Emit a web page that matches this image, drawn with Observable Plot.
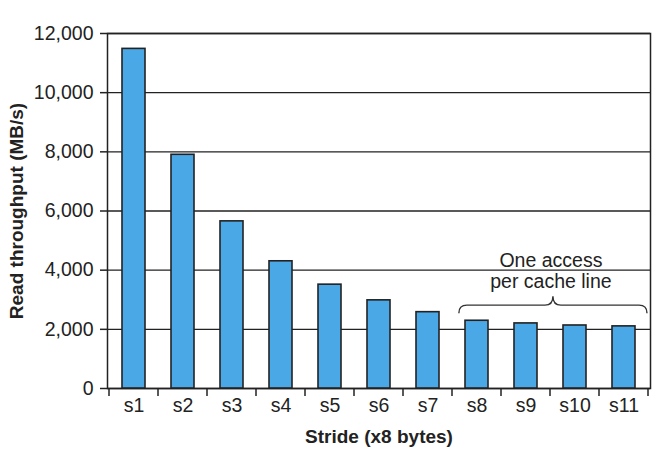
<!DOCTYPE html>
<html>
<head>
<meta charset="utf-8">
<script src="https://cdn.jsdelivr.net/npm/d3@7"></script>
<script src="https://cdn.jsdelivr.net/npm/@observablehq/plot@0.6"></script>
<style>
  html, body { margin: 0; padding: 0; background: #fff; }
</style>
</head>
<body>
<div id="chart"></div>
<script>
// ---- data ----
const strides = ["s1", "s2", "s3", "s4", "s5", "s6", "s7", "s8", "s9", "s10", "s11"];
const throughput = [11480, 7900, 5650, 4300, 3510, 2980, 2580, 2290, 2200, 2130, 2100];
const yTicks = [0, 2000, 4000, 6000, 8000, 10000, 12000];
const noteLines = ["One access", "per cache line"];
const noteFrom = "s8";
const noteTo = "s11";
const braceLevel = 2800;
const xTitle = "Stride (x8 bytes)";
const yTitle = "Read throughput (MB/s)";

const data = strides.map((s, i) => ({stride: s, value: throughput[i]}));

const ink = "#222";
const barFill = "#4aa8e6";
const paddingInner = 0.54;
const font = "'Liberation Sans', Arial, Helvetica, sans-serif";
const fs = 19.5;

// helper: band geometry from the scale
function bandInfo(x) {
  const step = x(strides[1]) - x(strides[0]);
  let bw = typeof x.bandwidth === "function" ? x.bandwidth() : x.bandwidth;
  if (!(bw > 0)) bw = step * (1 - paddingInner);
  return {step, bw, center: (s) => x(s) + bw / 2};
}

// boundary ticks under the x axis
function boundaryTicks(index, scales, values, dims) {
  const {step, center} = bandInfo(scales.x);
  const yb = dims.height - dims.marginBottom;
  const g = d3.create("svg:g").attr("stroke", ink).attr("stroke-width", 1.5);
  const xs = strides.map((s) => center(s) - step / 2);
  xs.push(center(strides[strides.length - 1]) + step / 2);
  for (const xx of xs) {
    g.append("line").attr("x1", xx).attr("x2", xx).attr("y1", yb).attr("y2", yb + 8);
  }
  return g.node();
}

// brace + note
function braceNote(index, scales, values, dims) {
  const {step, center} = bandInfo(scales.x);
  const x0 = center(noteFrom) - step * 0.36;
  const x1 = center(noteTo) + step * 0.5 - 1;
  const xm = (x0 + x1) / 2;
  const yb = scales.y(braceLevel);
  const r = 8, tip = 9, drop = 8;
  const path = `M${x0},${yb + drop} Q${x0},${yb} ${x0 + r},${yb} L${xm - r},${yb} Q${xm},${yb} ${xm},${yb - tip} Q${xm},${yb} ${xm + r},${yb} L${x1 - r},${yb} Q${x1},${yb} ${x1},${yb + drop}`;
  const g = d3.create("svg:g");
  g.append("path").attr("d", path).attr("fill", "none").attr("stroke", "#333").attr("stroke-width", 1.4);
  const t = g.append("text").attr("text-anchor", "middle").attr("fill", ink)
    .attr("font-size", fs + "px").attr("font-family", font);
  noteLines.forEach((line, i) => {
    t.append("tspan").attr("x", xm - 2).attr("y", yb - tip - 8 - (noteLines.length - 1 - i) * 21).text(line);
  });
  return g.node();
}

const chart = Plot.plot({
  width: 655,
  height: 453,
  marginLeft: 107,
  marginRight: 5,
  marginTop: 33,
  marginBottom: 65,
  style: {fontFamily: font, fontSize: fs + "px", color: ink, background: "#fff"},
  x: {domain: strides, paddingInner: paddingInner, paddingOuter: paddingInner / 2, label: null},
  y: {domain: [0, 12000], label: null},
  marks: [
    Plot.gridY(yTicks, {stroke: ink, strokeOpacity: 1, strokeWidth: 1.3}),
    Plot.frame({stroke: ink, strokeWidth: 1.5}),
    Plot.barY(data, {x: "stride", y: "value", fill: barFill, stroke: ink, strokeWidth: 1.6}),
    Plot.axisY({ticks: yTicks, tickSize: 7, tickPadding: 7, tickFormat: d3.format(","), label: null, stroke: ink, strokeWidth: 1.5, fontSize: fs}),
    Plot.axisX({tickSize: 0, tickPadding: 10, label: null, fontSize: fs}),
    boundaryTicks,
    braceNote,
    Plot.text([yTitle], {frameAnchor: "left", rotate: -90, dx: -91, textAnchor: "middle", fontWeight: "bold", fontSize: fs - 0.5, fill: ink, text: (d) => d}),
    Plot.text([xTitle], {frameAnchor: "bottom", dy: 54, textAnchor: "middle", fontWeight: "bold", fontSize: fs - 0.5, fill: ink, text: (d) => d})
  ]
});

document.getElementById("chart").appendChild(chart);
</script>
</body>
</html>
